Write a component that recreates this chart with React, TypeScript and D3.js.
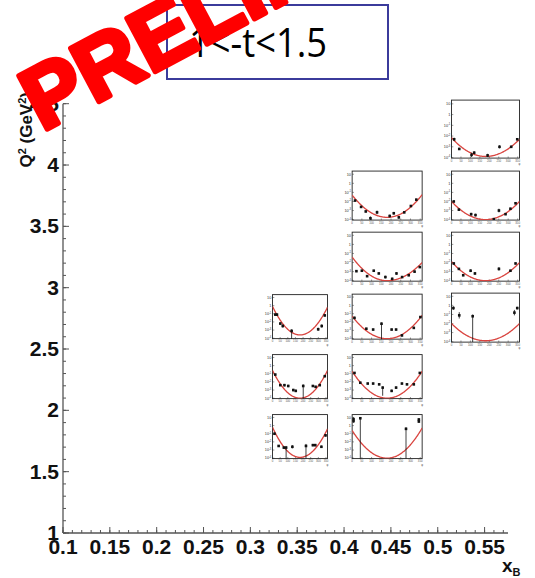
import React from "react";
import * as d3 from "d3";

// ---- main axes ----
const xTicks = [0.1, 0.15, 0.2, 0.25, 0.3, 0.35, 0.4, 0.45, 0.5, 0.55];
const yTicks = [1, 1.5, 2, 2.5, 3, 3.5, 4, 4.5];
const xDomain = [0.1, 0.575];
const yDomain = [1, 4.5];

// ---- panels (bin centres in xB, Q^2) ----
const panelXB = [0.551, 0.446, 0.551, 0.446, 0.551, 0.353, 0.446, 0.551, 0.353, 0.446, 0.353, 0.446];
const panelQ2 = [4.293, 3.751, 3.751, 3.253, 3.253, 2.764, 2.764, 2.756, 2.275, 2.275, 1.786, 1.786];

// fit parameters (log10 of value): left edge, minimum, right edge
const fitLeft = [-2.15, -1.3, -2.0, -1.4, -1.9, -0.1, -1.3, -2.0, -0.6, -0.7, -0.2, -0.6];
const fitMin = [-3.9, -3.75, -4.0, -4.0, -4.0, -3.6, -4.0, -3.9, -4.0, -4.0, -3.9, -4.0];
const fitRight = [-2.3, -1.25, -2.0, -2.0, -2.0, -0.2, -1.2, -2.0, -0.6, -0.7, -0.4, -0.3];

// points: [phi (deg), log10 value, err down (decades), err up (decades)]
const pts0 = [[14, -2.3, 0.15, 0.15], [41, -3.2, 0.1, 0.1], [106, -3.75, 0.2, 0.2], [120, -3.55, 0.15, 0.15], [191, -3.8, 0.15, 0.15], [254, -3.0, 0.15, 0.15], [316, -3.0, 0.1, 0.1], [348, -2.3, 0.1, 0.1]];
const pts1 = [[15, -1.9, 0.1, 0.1], [46, -2.6, 0.1, 0.1], [70, -3.1, 0.1, 0.1], [94, -3.85, 0.2, 0.2], [128, -3.2, 0.2, 0.2], [193, -3.6, 0.15, 0.15], [214, -3.3, 0.15, 0.15], [240, -3.75, 0.15, 0.15], [268, -3.2, 0.1, 0.1], [302, -2.5, 0.1, 0.1], [330, -1.8, 0.1, 0.1]];
const pts2 = [[12, -2.0, 0.1, 0.1], [39, -2.9, 0.1, 0.1], [104, -3.4, 0.15, 0.15], [127, -3.5, 0.15, 0.15], [224, -3.95, 0.1, 0.1], [251, -3.0, 0.2, 0.2], [286, -3.4, 0.1, 0.1], [312, -2.8, 0.1, 0.1], [339, -2.2, 0.1, 0.1]];
const pts3 = [[22, -2.95, 0.1, 0.1], [50, -2.9, 0.1, 0.1], [77, -3.5, 0.1, 0.1], [111, -2.9, 0.1, 0.1], [137, -3.2, 0.1, 0.1], [171, -3.6, 0.15, 0.15], [206, -3.8, 0.15, 0.15], [228, -3.2, 0.15, 0.15], [257, -3.6, 0.1, 0.1], [291, -3.4, 0.1, 0.1], [321, -3.0, 0.1, 0.1], [348, -2.5, 0.1, 0.1]];
const pts4 = [[12, -2.1, 0.1, 0.1], [39, -2.7, 0.1, 0.1], [62, -3.4, 0.1, 0.1], [101, -2.9, 0.15, 0.15], [124, -3.2, 0.15, 0.15], [251, -2.7, 0.2, 0.2], [312, -2.9, 0.1, 0.1], [339, -2.1, 0.1, 0.1]];
const pts5 = [[18, -1.1, 0.15, 0.15], [29, -1.1, 0.15, 0.15], [51, -2.2, 0.15, 0.15], [67, -2.5, 0.2, 0.2], [125, -3.1, 3, 0.2], [299, -2.9, 0.2, 0.2], [322, -2.5, 0.2, 0.2], [342, -1.2, 0.15, 0.15]];
const pts6 = [[12, -1.5, 0.15, 0.15], [73, -2.8, 0.1, 0.1], [108, -2.9, 0.1, 0.1], [151, -2.2, 3, 0.15], [203, -2.9, 0.1, 0.1], [226, -2.9, 0.1, 0.1], [256, -3.6, 0.15, 0.15], [317, -2.7, 0.1, 0.1], [351, -1.4, 0.1, 0.1]];
const pts7 = [[10, -0.3, 0.2, 0.2], [41, -1.1, 0.35, 0.35], [112, -1.2, 4, 0.2], [333, -0.8, 0.3, 0.3], [348, -0.3, 0.15, 0.15]];
const pts8 = [[18, -1.1, 0.1, 0.1], [51, -2.4, 0.1, 0.1], [78, -2.4, 0.15, 0.15], [103, -2.5, 0.15, 0.15], [136, -3.0, 0.15, 0.15], [152, -3.1, 0.15, 0.15], [201, -2.5, 3, 0.2], [264, -2.5, 0.1, 0.1], [282, -2.6, 0.1, 0.1], [309, -2.4, 0.1, 0.1], [342, -1.3, 0.1, 0.1]];
const pts9 = [[12, -0.9, 0.1, 0.1], [42, -2.1, 0.1, 0.1], [80, -2.2, 0.1, 0.1], [108, -2.2, 0.1, 0.1], [139, -2.3, 0.1, 0.1], [157, -2.7, 1.0, 0.15], [203, -3.1, 0.15, 0.15], [226, -2.7, 0.15, 0.15], [256, -2.2, 0.1, 0.1], [282, -2.3, 0.1, 0.1], [317, -2.3, 0.1, 0.1], [348, -0.9, 0.1, 0.1]];
const pts10 = [[13, -1.0, 0.15, 0.15], [40, -2.5, 0.1, 0.1], [74, -2.7, 0.15, 0.15], [89, -2.7, 3, 0.2], [130, -2.6, 0.2, 0.2], [219, -2.5, 3, 0.25], [264, -2.4, 0.15, 0.15], [280, -2.4, 0.15, 0.15], [320, -2.6, 0.15, 0.15], [347, -1.2, 0.15, 0.15]];
const pts11 = [[7, 0.8, 0.2, 0.2], [7, 0.55, 0.2, 0.2], [42, 0.9, 6, 0.1], [277, -0.4, 6, 0.2], [343, 0.75, 0.15, 0.15], [343, 0.5, 0.15, 0.15]];
const panelPoints = [pts0, pts1, pts2, pts3, pts4, pts5, pts6, pts7, pts8, pts9, pts10, pts11];

const panelYLabels = [1, 0, -1, -2, -3, -4];
const panelXTicks = [0, 50, 100, 150, 200, 250, 300, 350];

// ---- layout ----
const W = 535;
const H = 578;
const panelW = [68, 70, 68, 70, 68, 55, 70, 68, 55, 70, 55, 70];
const panelH = [58, 49, 49, 49, 49, 44, 45, 49, 44, 44, 44, 44];
const logDomain = [-4.05, 1.35];

const xScale = d3.scaleLinear().domain(xDomain).range([63, 508]);
const yScale = d3.scaleLinear().domain(yDomain).range([533, 103.7]);

const axisFont = "'Liberation Sans Narrow', 'Liberation Sans', Arial, sans-serif";

function Panel({ i }: { i: number }) {
  const cx = xScale(panelXB[i]);
  const cy = yScale(panelQ2[i]);
  const w = panelW[i];
  const h = panelH[i];
  const x0 = cx - w / 2;
  const y0 = cy - h / 2;
  const px = d3.scaleLinear().domain([0, 360]).range([x0, x0 + w]);
  const py = d3.scaleLinear().domain(logDomain).range([y0 + h, y0]);
  const fit = (phi: number) => {
    const edge = phi < 180 ? fitLeft[i] : fitRight[i];
    const t = (phi - 180) / 180;
    return fitMin[i] + (edge - fitMin[i]) * t * t;
  };
  const phis = d3.range(0, 361, 3);
  const line = d3
    .line<number>()
    .x((p) => px(p))
    .y((p) => py(fit(p)))
    .curve(d3.curveBasis);
  const clipId = `clip${i}`;
  return (
    <g>
      <defs>
        <clipPath id={clipId}>
          <rect x={x0} y={y0} width={w} height={h} />
        </clipPath>
      </defs>
      <rect x={x0} y={y0} width={w} height={h} fill="#fff" stroke="#222" strokeWidth={0.9} />
      {panelYLabels.map((e) => (
        <g key={e}>
          <line x1={x0} x2={x0 + 1.8} y1={py(e)} y2={py(e)} stroke="#333" strokeWidth={0.5} />
          <text x={x0 - 1.2} y={py(e) + 1.3} fontSize={3.8} textAnchor="end" fill="#333" fontFamily="Liberation Sans, sans-serif">
            {e === 0 ? "1" : "10"}
            {e !== 0 && e !== 1 ? (
              <tspan dy={-1.4} fontSize={2.6}>{e}</tspan>
            ) : null}
          </text>
        </g>
      ))}
      {panelXTicks.map((t) => (
        <g key={t}>
          <line x1={px(t)} x2={px(t)} y1={y0 + h} y2={y0 + h - 1.6} stroke="#333" strokeWidth={0.5} />
          <text x={px(t)} y={y0 + h + 3.8} fontSize={2.8} textAnchor="middle" fill="#555" fontFamily="Liberation Sans, sans-serif">
            {t}
          </text>
        </g>
      ))}
      <text x={x0 + w} y={y0 + h + 7} fontSize={2.8} textAnchor="middle" fill="#555" fontFamily="Liberation Sans, sans-serif">
        φ
      </text>
      <g clipPath={`url(#${clipId})`}>
        <path d={line(phis) || ""} fill="none" stroke="#d9443f" strokeWidth={1.3} />
        {panelPoints[i].map((p, k) => {
          const [phi, v, dn, up] = p;
          const x = px(phi);
          return (
            <g key={k}>
              <line x1={x} x2={x} y1={py(v - dn)} y2={py(v + up)} stroke="#111" strokeWidth={0.8} />
              <rect x={x - 1.3} y={py(v) - 1.3} width={2.6} height={2.6} fill="#111" />
            </g>
          );
        })}
      </g>
    </g>
  );
}

export default function App() {
  const xMinor = d3.range(0.1, 0.5751, 0.01);
  const yMinor = d3.range(1, 4.501, 0.1);
  return (
    <svg width={W} height={H} style={{ position: "absolute", left: 0, top: 0, background: "#fff" }}>
      <rect x={0} y={0} width={W} height={H} fill="#fff" />
      {/* axes */}
      <line x1={xScale(xDomain[0])} x2={xScale(xDomain[1])} y1={yScale(1)} y2={yScale(1)} stroke="#555" strokeWidth={1.3} />
      <line x1={xScale(0.1)} x2={xScale(0.1)} y1={yScale(1)} y2={yScale(4.5)} stroke="#555" strokeWidth={1.3} />
      {xMinor.map((t, k) => (
        <line key={k} x1={xScale(t)} x2={xScale(t)} y1={yScale(1)} y2={yScale(1) - 3} stroke="#555" strokeWidth={1} />
      ))}
      {xTicks.map((t) => (
        <g key={t}>
          <line x1={xScale(t)} x2={xScale(t)} y1={yScale(1)} y2={yScale(1) - 6} stroke="#555" strokeWidth={1} />
          <text x={xScale(t)} y={554} textAnchor="middle" fontSize={21} fontWeight="bold" fontFamily={axisFont} fill="#111">
            {t}
          </text>
        </g>
      ))}
      {yMinor.map((t, k) => (
        <line key={k} x1={xScale(0.1)} x2={xScale(0.1) + 3} y1={yScale(t)} y2={yScale(t)} stroke="#555" strokeWidth={1} />
      ))}
      {yTicks.map((t) => (
        <g key={t}>
          <line x1={xScale(0.1)} x2={xScale(0.1) + 6} y1={yScale(t)} y2={yScale(t)} stroke="#555" strokeWidth={1} />
          <text x={59} y={yScale(t) + 7} textAnchor="end" fontSize={21} fontWeight="bold" fontFamily={axisFont} fill="#111">
            {t}
          </text>
        </g>
      ))}
      <text transform="translate(32,92) rotate(-90)" textAnchor="end" fontSize={17} fontWeight="bold" fontFamily={axisFont} fill="#111">
        Q<tspan dy={-6} fontSize={11}>2</tspan>
        <tspan dy={6}> (GeV</tspan>
        <tspan dy={-6} fontSize={11}>2</tspan>
        <tspan dy={6}>)</tspan>
      </text>
      <text x={502} y={572} fontSize={19} fontWeight="bold" fontFamily={axisFont} fill="#111">
        x<tspan dy={4} fontSize={11}>B</tspan>
      </text>
      {/* panels */}
      {panelXB.map((_, i) => (
        <Panel key={i} i={i} />
      ))}
      {/* title box */}
      <rect x={167} y={5} width={221} height={74} fill="#fff" stroke="#3b3b9b" strokeWidth={2} />
      <text x={189} y={57} fontSize={40} fontFamily="'Open Sans', 'DejaVu Sans', sans-serif" fill="#000" textLength={138} lengthAdjust="spacingAndGlyphs">
        1&lt;-t&lt;1.5
      </text>
      {/* stamp */}
      <text
        transform="translate(42,132) rotate(-28)"
        fontSize={88}
        fontWeight="bold"
        fontFamily="'Liberation Sans', sans-serif"
        fill="#ff0000"
        stroke="#ff0000"
        strokeWidth={5}
        strokeLinejoin="round"
        strokeLinecap="round"
      >
        PRELIMINARY
      </text>
    </svg>
  );
}
